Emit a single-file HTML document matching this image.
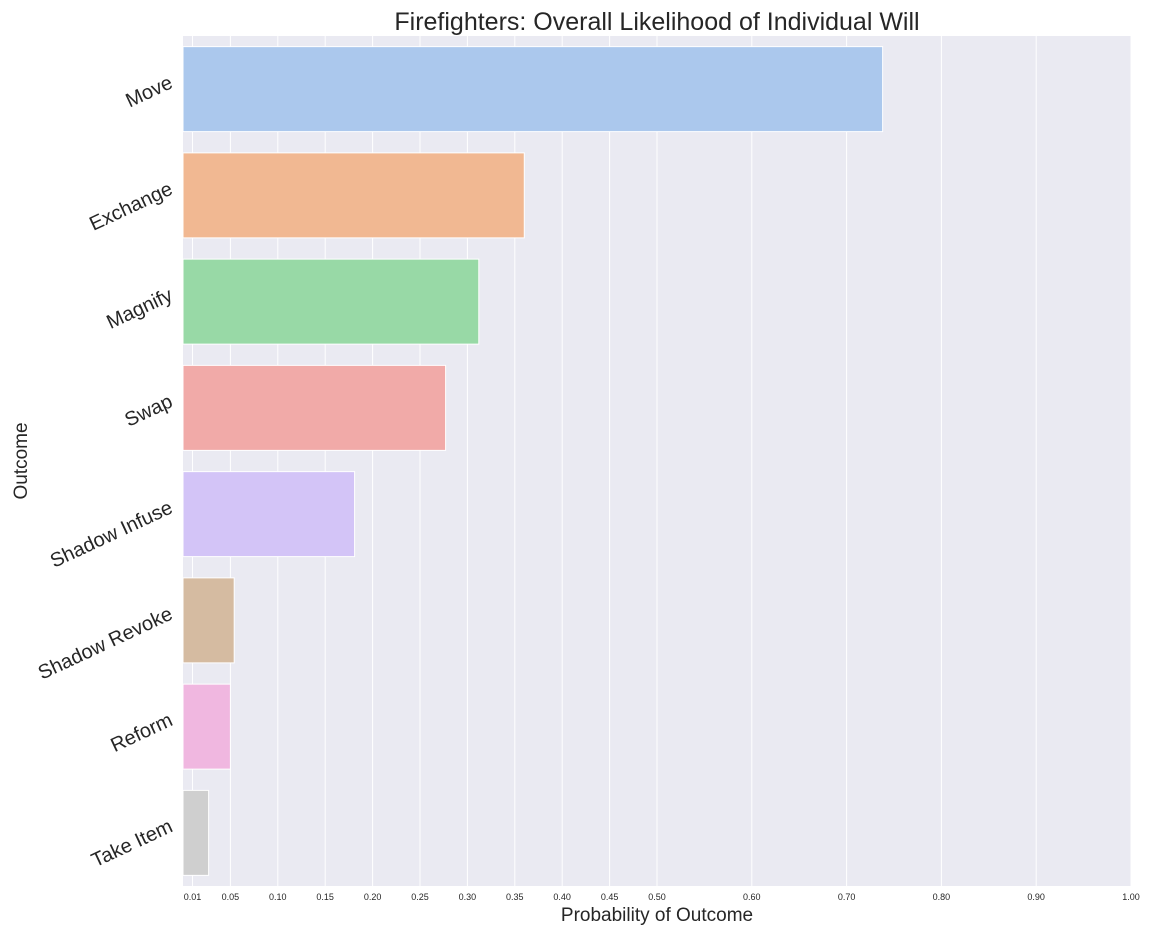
<!DOCTYPE html>
<html><head><meta charset="utf-8"><style>
body{margin:0;background:#fff;}
svg text{font-family:"Liberation Sans",Arial,sans-serif;fill:#262626;}
</style></head><body>
<svg id="c" width="1152" height="936"></svg>
<script>
const categories=["Move","Exchange","Magnify","Swap","Shadow Infuse","Shadow Revoke","Reform","Take Item"];
const values=[0.738,0.360,0.312,0.277,0.181,0.054,0.050,0.027];
const ticks=[0.01,0.05,0.10,0.15,0.20,0.25,0.30,0.35,0.40,0.45,0.50,0.60,0.70,0.80,0.90,1.00];
const colors=["#abc8ed","#f1b892","#98d9a6","#f1aaa8","#d3c4f7","#d5bba1","#f0b7e0","#cfcfcf"];
const L=183,R=1131,T=36,B=886;
const NS="http://www.w3.org/2000/svg";
const svg=document.getElementById('c');
function x(v){return L+v*(R-L);}
const band=(B-T)/categories.length;
function y(i){return T+i*band;}
function mk(t,a,p){const e=document.createElementNS(NS,t);for(const k in a)e.setAttribute(k,a[k]);(p||svg).appendChild(e);return e;}
const bg=mk('rect',{x:L,y:T,width:R-L,height:B-T,fill:'#eaeaf2'});


ticks.forEach(t=>{
  const g=mk('line',{x1:x(t),x2:x(t),y1:T,y2:B,stroke:'#fff','stroke-width':1});
  
  
  const tl=mk('text',{x:x(t),y:B+14,'font-size':9,'text-anchor':'middle'});
  tl.textContent=t.toFixed(2);
  
  
});
categories.forEach((c,i)=>{
  const h=band*0.8;
  const r=mk('rect',{x:x(0),y:y(i)+band*0.1,width:x(values[i])-x(0),height:h,fill:colors[i],stroke:'#fff','stroke-width':1});
  
  
  const cy=y(i)+band/2;
  const tl=mk('text',{x:0,y:0,'font-size':20,'text-anchor':'end',transform:`translate(174,${cy-2}) rotate(-25)`});
  tl.textContent=c;
  
  
});
const ti=mk('text',{x:(L+R)/2,y:30,'font-size':25,'text-anchor':'middle'});
ti.textContent='Firefighters: Overall Likelihood of Individual Will';


const xt=mk('text',{x:(L+R)/2,y:921,'font-size':19,'text-anchor':'middle'});
xt.textContent='Probability of Outcome';


const yt=mk('text',{x:0,y:0,'font-size':19,'text-anchor':'middle',transform:'translate(27,461) rotate(-90)'});
yt.textContent='Outcome';


</script>
</body></html>
